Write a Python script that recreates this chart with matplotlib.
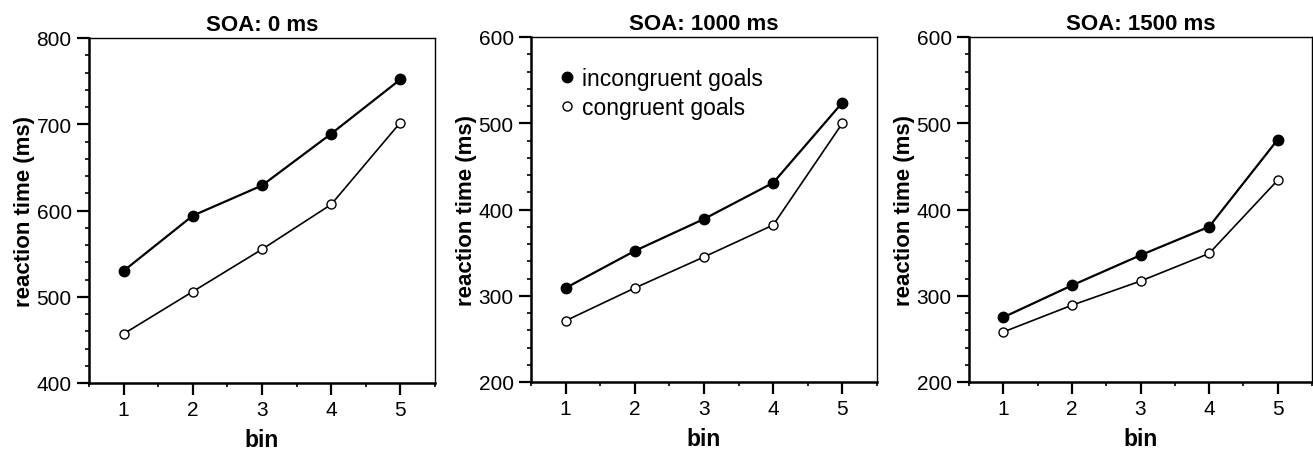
import matplotlib
matplotlib.use("Agg")
import matplotlib.pyplot as plt
from matplotlib.ticker import MultipleLocator
from matplotlib.lines import Line2D

plt.rcParams['font.family'] = ['Liberation Sans', 'DejaVu Sans']

bins = [1, 2, 3, 4, 5]
titles = ["SOA: 0 ms", "SOA: 1000 ms", "SOA: 1500 ms"]

incong_0 = [530, 594, 629, 689, 752]
cong_0 = [457, 506, 555, 607, 702]
incong_1000 = [309, 352, 389, 431, 524]
cong_1000 = [271, 309, 345, 382, 500]
incong_1500 = [275, 312, 347, 380, 481]
cong_1500 = [258, 289, 317, 349, 434]

ylims = [(400, 800), (200, 600), (200, 600)]

incong = [incong_0, incong_1000, incong_1500]
cong = [cong_0, cong_1000, cong_1500]

fig = plt.figure(figsize=(13.13, 4.52), dpi=100)
W, H = 1313, 452
boxes = [(89, 39, 346, 345), (531, 38, 346, 345), (969, 38, 343, 345)]

for i in range(3):
    l, t, w, h = boxes[i]
    ax = fig.add_axes([l / W, 1 - (t + h) / H, w / W, h / H])
    ax.plot(bins, incong[i], '-o', color='black', lw=1.6, ms=7.5,
            mfc='black', mec='black')
    ax.plot(bins, cong[i], '-o', color='black', lw=1.2, ms=6.5,
            mfc='white', mec='black', mew=1.0)
    ax.set_xlim(0.5, 5.5)
    ax.set_ylim(*ylims[i])
    ax.set_xticks(bins)
    ax.yaxis.set_major_locator(MultipleLocator(100))
    ax.yaxis.set_minor_locator(MultipleLocator(20))
    ax.xaxis.set_minor_locator(MultipleLocator(0.5))
    ax.tick_params(which='major', direction='out', length=8.5, width=1.6,
                   labelsize=15, pad=4, top=False, right=False)
    ax.tick_params(which='minor', direction='out', length=3, width=1.2,
                   top=False, right=False)
    for s in ax.spines.values():
        s.set_linewidth(1.0)
    ax.spines['left'].set_linewidth(1.8)
    ax.spines['bottom'].set_linewidth(1.8)
    ax.set_title(titles[i], fontsize=16, fontweight='bold', pad=6)
    ax.set_xlabel('bin', fontsize=16.5, fontweight='bold', labelpad=6)
    ax.set_ylabel('reaction time (ms)', fontsize=16, fontweight='bold', labelpad=1)
    if i == 1:
        handles = [
            Line2D([], [], ls='none', marker='o', ms=7.5, mfc='black', mec='black'),
            Line2D([], [], ls='none', marker='o', ms=6.5, mfc='white', mec='black'),
        ]
        ax.legend(handles, ['incongruent goals', 'congruent goals'],
                  loc='upper left', frameon=False, fontsize=16.5,
                  handlelength=0.5, handletextpad=0.4, borderaxespad=0.0,
                  labelspacing=0.25, bbox_to_anchor=(0.06, 0.94))

fig.savefig("out.png", dpi=100)
